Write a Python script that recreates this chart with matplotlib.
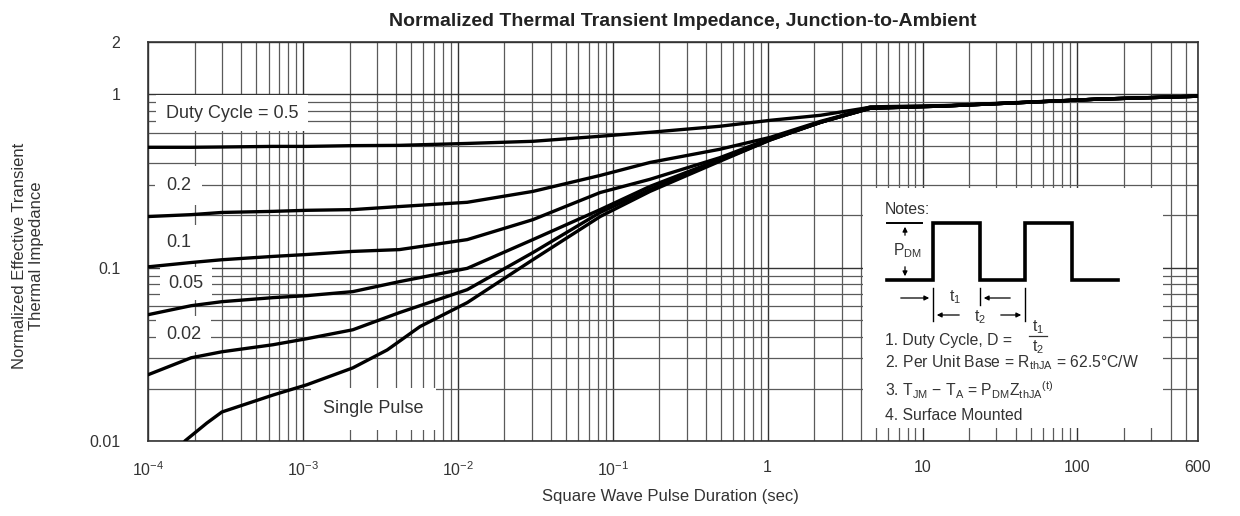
import matplotlib
matplotlib.use("Agg")
import matplotlib.pyplot as plt
from matplotlib.ticker import NullFormatter, LogLocator

plt.rcParams['font.family'] = ['Liberation Sans', 'DejaVu Sans']
plt.rcParams['mathtext.default'] = 'regular'

# ---------------- data ----------------
pulse_time = [1.0e-4, 1.9e-4, 3.0e-4, 6.4e-4, 1.06e-3, 2.1e-3, 4.2e-3, 1.15e-2,
              3.05e-2, 8.3e-2, 0.174, 0.49, 1.04, 2.2, 4.6, 13.8, 134, 600]
z_d050 = [0.494, 0.494, 0.496, 0.500, 0.500, 0.505, 0.507, 0.520, 0.535, 0.572,
          0.603, 0.653, 0.707, 0.756, 0.841, 0.855, 0.936, 0.974]
z_d020 = [0.197, 0.202, 0.208, 0.211, 0.214, 0.216, 0.225, 0.238, 0.275, 0.340,
          0.404, 0.481, 0.564, 0.698, 0.830, 0.855, 0.936, 0.974]
z_d010 = [0.101, 0.107, 0.111, 0.116, 0.119, 0.124, 0.127, 0.145, 0.189, 0.271,
          0.323, 0.430, 0.555, 0.689, 0.830, 0.855, 0.936, 0.974]
z_d005 = [0.0535, 0.0603, 0.0636, 0.0671, 0.0689, 0.0727, 0.083, 0.099, 0.145, 0.216,
          0.294, 0.420, 0.549, 0.689, 0.830, 0.855, 0.936, 0.974]
z_d002 = [0.0241, 0.0302, 0.0327, 0.0359, 0.0389, 0.0438, 0.055, 0.0746, 0.122, 0.208,
          0.282, 0.415, 0.545, 0.689, 0.830, 0.855, 0.936, 0.974]
single_time = [1.73e-4, 2.4e-4, 3.0e-4, 6.4e-4, 1.06e-3, 2.1e-3, 3.5e-3, 5.7e-3, 1.15e-2,
               3.05e-2, 8.3e-2, 0.174, 0.49, 1.04, 2.2, 4.6, 13.8, 134, 600]
z_single = [0.0100, 0.0127, 0.0147, 0.0184, 0.0211, 0.0264, 0.0335, 0.0457, 0.0628,
            0.111, 0.197, 0.275, 0.410, 0.545, 0.689, 0.845, 0.860, 0.936, 0.974]

curve_labels = ["Duty Cycle = 0.5", "0.2", "0.1", "0.05", "0.02", "Single Pulse"]
x_tick_vals = [1e-4, 1e-3, 1e-2, 1e-1, 1, 10, 100, 600]
x_tick_text = ["$10^{-4}$", "$10^{-3}$", "$10^{-2}$", "$10^{-1}$", "1", "10", "100", "600"]
y_tick_vals = [0.01, 0.1, 1, 2]
y_tick_text = ["0.01", "0.1", "1", "2"]

# ---------------- figure ----------------
W, H = 1240, 516
fig = plt.figure(figsize=(W / 100, H / 100), dpi=100)
fig.patch.set_facecolor('white')

def fx(px):
    return px / W

def fy(py):
    return 1 - py / H

ax = fig.add_axes([fx(148), fy(441), fx(1198) - fx(148), fy(42) - fy(441)])
ax.set_xscale('log')
ax.set_yscale('log')
ax.set_xlim(1e-4, 600)
ax.set_ylim(0.01, 2)

ax.xaxis.set_major_locator(LogLocator(base=10, numticks=20))
ax.xaxis.set_minor_locator(LogLocator(base=10, subs=range(2, 10), numticks=50))
ax.yaxis.set_minor_locator(LogLocator(base=10, subs=range(2, 10), numticks=50))
ax.grid(True, which='major', color='#333333', lw=1.0, zorder=0)
ax.grid(True, which='minor', color='#5a5a5a', lw=0.9, zorder=0)
ax.set_axisbelow(True)

ax.set_xticks(x_tick_vals)
ax.set_xticklabels(x_tick_text)
ax.set_yticks(y_tick_vals)
ax.set_yticklabels(y_tick_text)
ax.xaxis.set_minor_formatter(NullFormatter())
ax.yaxis.set_minor_formatter(NullFormatter())
ax.tick_params(which='both', length=0, labelsize=11.5, colors='#333333')
ax.tick_params(axis='x', pad=14)
ax.tick_params(axis='y', pad=20)
for sp in ax.spines.values():
    sp.set_color('#333333')
    sp.set_linewidth(1.2)

lw = 2.4
for y in (z_d050, z_d020, z_d010, z_d005, z_d002):
    ax.plot(pulse_time, y, color='black', lw=lw, solid_capstyle='round', zorder=4)
ax.plot(single_time, z_single, color='black', lw=lw, solid_capstyle='round', zorder=4)

lfs = 13
lc = '#333333'
ax.text(1.31e-4, 0.777, curve_labels[0], fontsize=lfs, color=lc, va='center', ha='left',
        bbox=dict(facecolor='white', edgecolor='none', pad=7), zorder=3)
ax.text(1.31e-4, 0.298, curve_labels[1], fontsize=lfs, color=lc, va='center', ha='left',
        bbox=dict(facecolor='white', edgecolor='none', pad=8), zorder=3)
ax.text(1.31e-4, 0.139, curve_labels[2], fontsize=lfs, color=lc, va='center', ha='left',
        bbox=dict(facecolor='white', edgecolor='none', pad=7), zorder=3)
ax.text(1.35e-4, 0.081, curve_labels[3], fontsize=lfs, color=lc, va='center', ha='left',
        bbox=dict(facecolor='white', edgecolor='none', pad=6), zorder=3)
ax.text(1.31e-4, 0.0414, curve_labels[4], fontsize=lfs, color=lc, va='center', ha='left',
        bbox=dict(facecolor='white', edgecolor='none', pad=7), zorder=3)
ax.text(1.35e-3, 0.0153, curve_labels[5], fontsize=lfs, color=lc, va='center', ha='left',
        bbox=dict(facecolor='white', edgecolor='none', pad=9), zorder=3)

fig.text(fx(683), fy(22), "Normalized Thermal Transient Impedance, Junction-to-Ambient",
         fontsize=14, fontweight='bold', ha='center', va='center', color='#222222')
fig.text(fx(670), fy(496), "Square Wave Pulse Duration (sec)", fontsize=12,
         ha='center', va='center', color='#333333')
fig.text(fx(28), fy(256), "Normalized Effective Transient\nThermal Impedance", fontsize=12,
         ha='center', va='center', rotation=90, multialignment='center', color='#333333')

# ---------------- notes box (pixel coordinates) ----------------
nx0, nx1, ny0, ny1 = 863, 1163, 188, 428
nax = fig.add_axes([fx(nx0), fy(ny1), fx(nx1) - fx(nx0), fy(ny0) - fy(ny1)], zorder=5)
nax.set_xlim(nx0, nx1)
nax.set_ylim(ny1, ny0)
nax.set_facecolor('white')
nax.axis('off')
nax.add_patch(plt.Rectangle((nx0, ny0), nx1 - nx0, ny1 - ny0, facecolor='white',
                            edgecolor='none', zorder=0))

tc = '#333333'
fs = 11.3
nax.text(885, 210, "Notes:", fontsize=fs, color=tc, va='center', ha='left')
wave_x = [887, 933, 933, 980, 980, 1025, 1025, 1072, 1072, 1118]
wave_y = [280, 280, 223, 223, 280, 280, 223, 223, 280, 280]
nax.plot(wave_x, wave_y, color='black', lw=2.6, solid_joinstyle='miter')
nax.plot([887, 922], [223, 223], color='black', lw=1.4)
arr = dict(arrowstyle='-|>', color='black', lw=0.9, mutation_scale=7)
nax.annotate("", xy=(905, 224), xytext=(905, 238), arrowprops=arr)
nax.annotate("", xy=(905, 279), xytext=(905, 264), arrowprops=arr)
nax.text(907, 251, "$P_{DM}$", fontsize=fs, color=tc, ha='center', va='center')
nax.plot([933, 933], [288, 321], color='black', lw=1.0)
nax.plot([980, 980], [288, 305], color='black', lw=1.0)
nax.plot([1025, 1025], [288, 321], color='black', lw=1.0)
nax.annotate("", xy=(932, 298), xytext=(898, 298), arrowprops=arr)
nax.annotate("", xy=(981, 298), xytext=(1013, 298), arrowprops=arr)
nax.text(955, 297, "$t_1$", fontsize=fs, color=tc, ha='center', va='center')
nax.annotate("", xy=(934, 315), xytext=(962, 315), arrowprops=arr)
nax.annotate("", xy=(1024, 315), xytext=(998, 315), arrowprops=arr)
nax.text(980, 317, "$t_2$", fontsize=fs, color=tc, ha='center', va='center')
nax.text(885, 340, "1. Duty Cycle, D =", fontsize=fs, color=tc, ha='left', va='center')
nax.text(1038, 327, "$t_1$", fontsize=fs, color=tc, ha='center', va='center')
nax.plot([1029, 1047], [336, 336], color='#333333', lw=0.9)
nax.text(1038, 347, "$t_2$", fontsize=fs, color=tc, ha='center', va='center')
nax.text(885, 363, "2. Per Unit Base = R$_{thJA}$ = 62.5°C/W", fontsize=fs, color=tc,
         ha='left', va='center')
nax.text(885, 390, "3. T$_{JM}$ − T$_A$ = P$_{DM}$Z$_{thJA}$$^{(t)}$", fontsize=fs, color=tc,
         ha='left', va='center')
nax.text(885, 415, "4. Surface Mounted", fontsize=fs, color=tc, ha='left', va='center')

fig.savefig("out.png", dpi=100, facecolor='white')
